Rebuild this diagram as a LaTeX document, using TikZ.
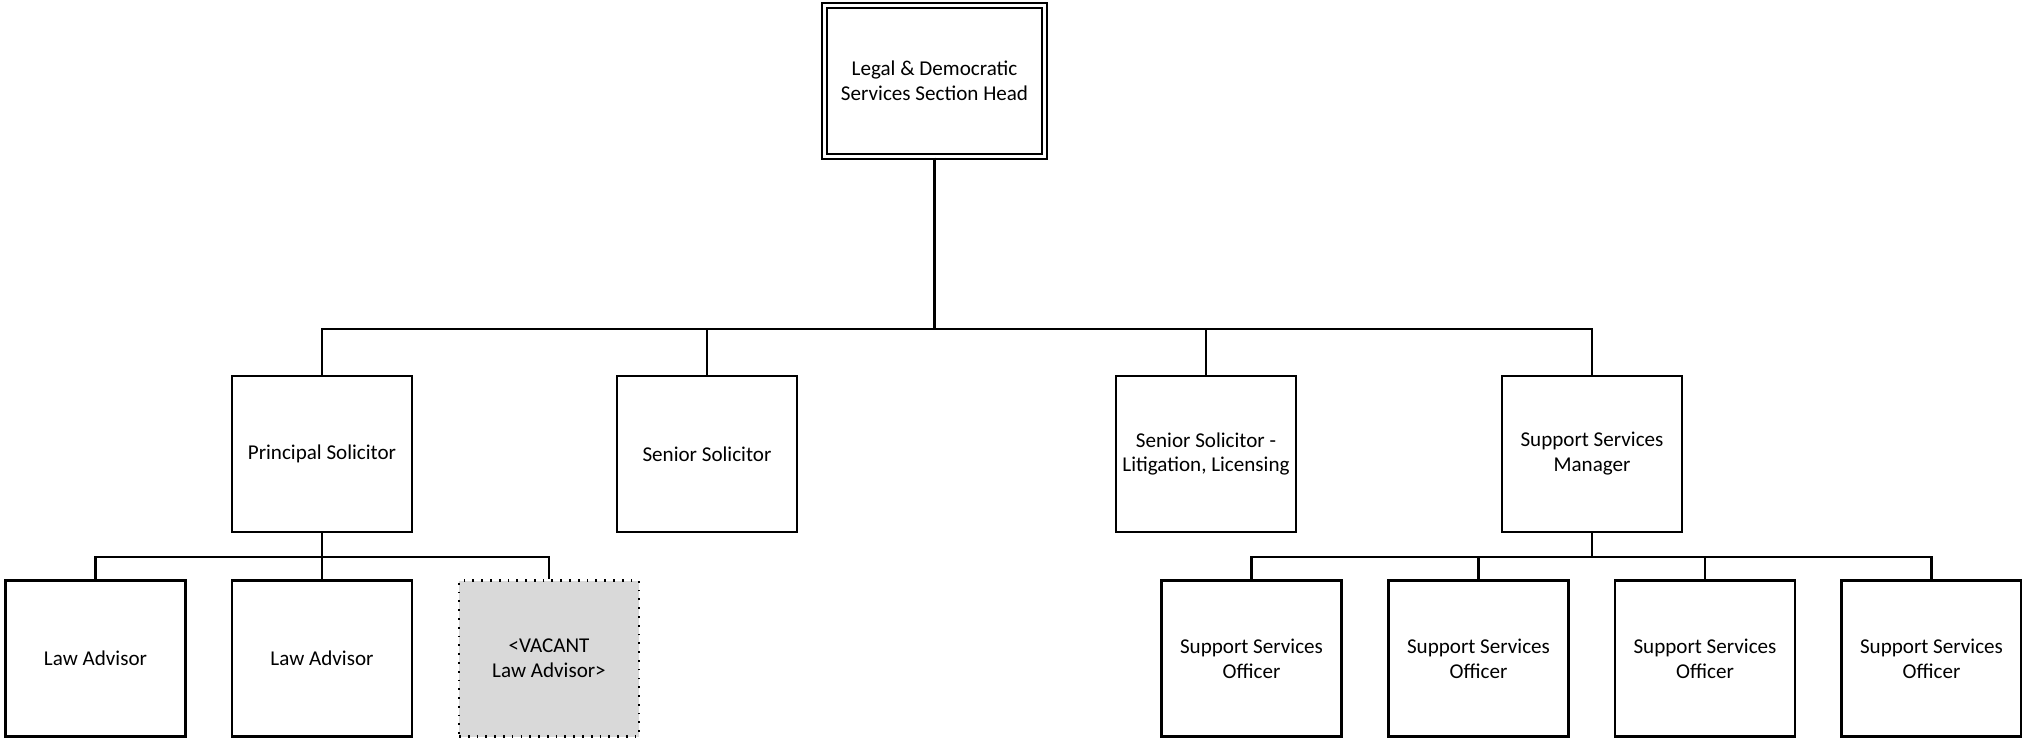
\documentclass[tikz,border=0pt]{standalone}
\usepackage{fontspec}
\setmainfont{Carlito}
\usepackage{xcolor}
\usetikzlibrary{positioning,calc}
\definecolor{vacantgray}{HTML}{D9D9D9}

\begin{document}
\begin{tikzpicture}[
    post/.style={draw,line width=0.6pt,minimum width=1.8cm,minimum height=1.56cm,inner sep=0pt,align=center,font=\fontsize{6}{7.1}\selectfont},
    headpost/.style={post,double,double distance=0.85pt,minimum width=2.2cm,minimum height=1.51cm},
    vacantpost/.style={post,fill=vacantgray,dash pattern=on 0.5pt off 2pt},
    link/.style={line width=0.65pt}]
    \useasboundingbox (0,0) rectangle (20.22,-7.39);
    \node[headpost] (head) at (9.345,-0.81) {Legal \& Democratic\\Services Section Head};
    \node[post] (principal) at (3.22,-4.54) {Principal Solicitor};
    \node[post] (senior) at (7.07,-4.54) {Senior Solicitor};
    \node[post] (seniorlit) at (12.06,-4.54) {Senior Solicitor -\\Litigation, Licensing};
    \node[post] (ssm) at (15.92,-4.54) {Support Services\\Manager};
    \node[post] (law1) at (0.955,-6.585) {Law Advisor};
    \node[post] (law2) at (3.22,-6.585) {Law Advisor};
    \node[vacantpost] (vacant) at (5.49,-6.585) {<VACANT\\Law Advisor>};
    \node[post] (sso1) at (12.515,-6.585) {Support Services\\Officer};
    \node[post] (sso2) at (14.785,-6.585) {Support Services\\Officer};
    \node[post] (sso3) at (17.05,-6.585) {Support Services\\Officer};
    \node[post] (sso4) at (19.315,-6.585) {Support Services\\Officer};
    \coordinate (bus) at (head.south |- 0,-3.29);
    \coordinate (psbus) at (principal.south |- 0,-5.57);
    \coordinate (ssmbus) at (ssm.south |- 0,-5.57);
    \draw[link] (head.south) -- (bus);
    \foreach \n in {principal,senior,seniorlit,ssm}
        \draw[link] (bus) -| (\n.north);
    \draw[link] (principal.south) -- (psbus);
    \foreach \n in {law1,law2,vacant}
        \draw[link] (psbus) -| (\n.north);
    \draw[link] (ssm.south) -- (ssmbus);
    \foreach \n in {sso1,sso2,sso3,sso4}
        \draw[link] (ssmbus) -| (\n.north);
\end{tikzpicture}
\end{document}
